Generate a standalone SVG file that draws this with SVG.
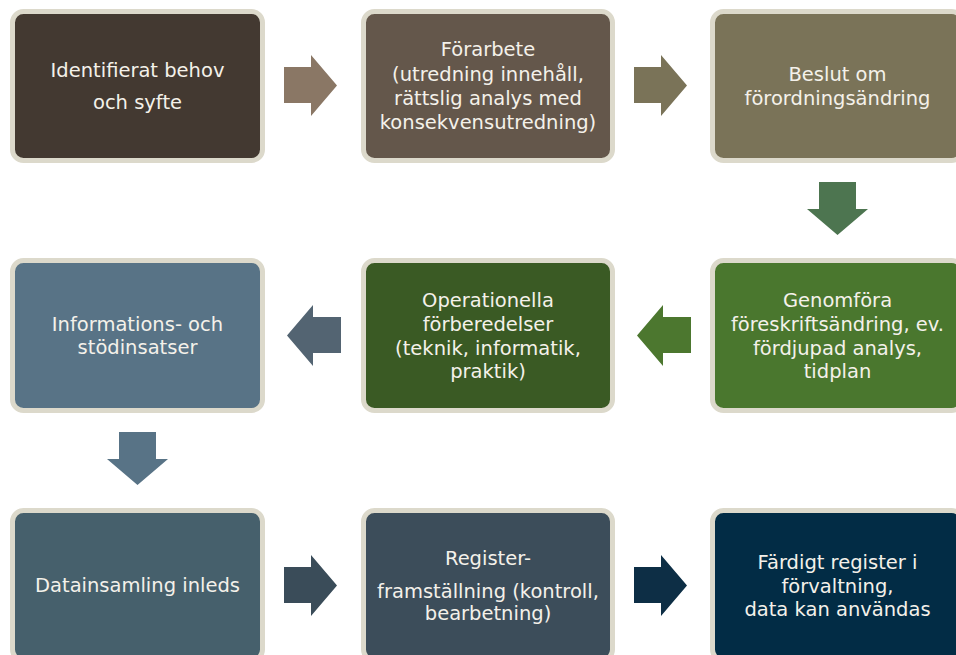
<svg xmlns="http://www.w3.org/2000/svg" width="956" height="655" viewBox="0 0 956 655">
  <style>
    .box { stroke: #DCD9CB; stroke-width: 5; }
    .lbl { font-family: "DejaVu Sans", "Liberation Sans", sans-serif; font-size: 19.5px; fill: #F4F1EA; text-anchor: middle; }
  </style>
  <defs>
    <!-- block arrow shapes, drawn at the origin and placed with transforms -->
    <path id="arrowRight" d="M0,12 H27 V0 L53,30.5 L27,61 V48 H0 Z"/>
    <path id="arrowLeft" d="M54,12 H26 V0 L0,30.5 L26,61 V48 H54 Z"/>
    <path id="arrowDown" d="M12,0 H49 V27 H61 L30.5,53 L0,27 H12 Z"/>
  </defs>
  <rect width="956" height="655" fill="#FFFFFF"/>

  <g id="connectors">
    <use href="#arrowRight" x="284" y="55" fill="#8A7765"/>
    <use href="#arrowRight" x="634" y="55" fill="#7A7358"/>
    <use href="#arrowDown" x="807" y="182" fill="#4D7550"/>
    <use href="#arrowLeft" x="637" y="305" fill="#4C772F"/>
    <use href="#arrowLeft" x="287" y="305" fill="#536472"/>
    <use href="#arrowDown" x="107" y="432" fill="#587386"/>
    <use href="#arrowRight" x="284" y="555" fill="#3A4C59"/>
    <use href="#arrowRight" x="634" y="555" fill="#0D2E45"/>
  </g>

  <g id="n1">
    <rect class="box" x="12.5" y="11.5" width="250" height="149" rx="11" fill="#433931"/>
    <text class="lbl" x="137.5" y="77">Identifierat behov</text>
    <text class="lbl" x="137.5" y="109">och syfte</text>
  </g>
  <g id="n2">
    <rect class="box" x="363.5" y="11.5" width="249" height="149" rx="11" fill="#64574B"/>
    <text class="lbl" x="488" y="56">Förarbete</text>
    <text class="lbl" x="488" y="81">(utredning innehåll,</text>
    <text class="lbl" x="488" y="105">rättslig analys med</text>
    <text class="lbl" x="488" y="129">konsekvensutredning)</text>
  </g>
  <g id="n3">
    <rect class="box" x="712.5" y="11.5" width="250" height="149" rx="11" fill="#7A7358"/>
    <text class="lbl" x="837.5" y="81">Beslut om</text>
    <text class="lbl" x="837.5" y="105">förordningsändring</text>
  </g>
  <g id="n4">
    <rect class="box" x="712.5" y="260.5" width="250" height="150" rx="11" fill="#4A772E"/>
    <text class="lbl" x="837.5" y="307">Genomföra</text>
    <text class="lbl" x="837.5" y="331">föreskriftsändring, ev.</text>
    <text class="lbl" x="837.5" y="355">fördjupad analys,</text>
    <text class="lbl" x="837.5" y="378">tidplan</text>
  </g>
  <g id="n5">
    <rect class="box" x="363.5" y="260.5" width="249" height="150" rx="11" fill="#3A5A24"/>
    <text class="lbl" x="488" y="307">Operationella</text>
    <text class="lbl" x="488" y="331">förberedelser</text>
    <text class="lbl" x="488" y="355">(teknik, informatik,</text>
    <text class="lbl" x="488" y="378">praktik)</text>
  </g>
  <g id="n6">
    <rect class="box" x="12.5" y="260.5" width="250" height="150" rx="11" fill="#587386"/>
    <text class="lbl" x="137.5" y="331">Informations- och</text>
    <text class="lbl" x="137.5" y="354">stödinsatser</text>
  </g>
  <g id="n7">
    <rect class="box" x="12.5" y="510.5" width="250" height="150" rx="11" fill="#46606C"/>
    <text class="lbl" x="137.5" y="592">Datainsamling inleds</text>
  </g>
  <g id="n8">
    <rect class="box" x="363.5" y="510.5" width="249" height="150" rx="11" fill="#3C4D5A"/>
    <text class="lbl" x="488" y="565">Register-</text>
    <text class="lbl" x="488" y="598">framställning (kontroll,</text>
    <text class="lbl" x="488" y="620">bearbetning)</text>
  </g>
  <g id="n9">
    <rect class="box" x="712.5" y="510.5" width="250" height="150" rx="11" fill="#022C45"/>
    <text class="lbl" x="837.5" y="569">Färdigt register i</text>
    <text class="lbl" x="837.5" y="593">förvaltning,</text>
    <text class="lbl" x="837.5" y="616">data kan användas</text>
  </g>
</svg>
